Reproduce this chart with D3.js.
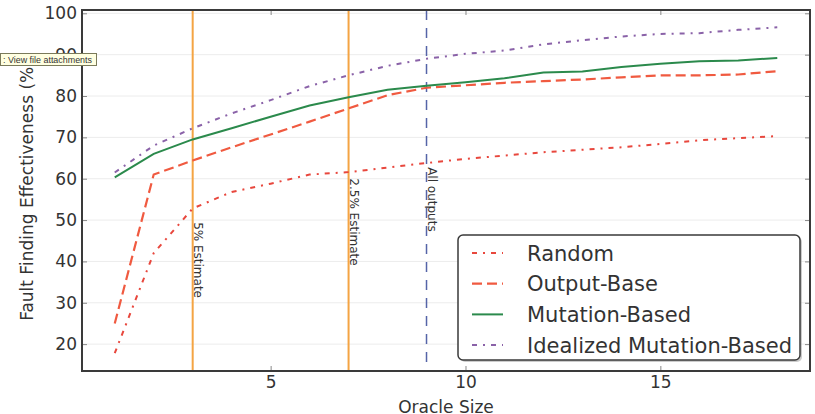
<!DOCTYPE html>
<html lang="en">
<head>
<meta charset="UTF-8">
<title>Fault Finding Effectiveness</title>
<script src="https://cdn.jsdelivr.net/npm/d3@7"></script>
<style>
  body { margin: 0; background: #fff; }
  svg { font-family: "DejaVu Sans", sans-serif; display: block; }
</style>
</head>
<body>
<script>
// data
const oracleSize = [1, 2, 3, 4, 5, 6, 7, 8, 9, 10, 11, 12, 13, 14, 15, 16, 17, 18]
const randomVals = [17.8, 42, 52.8, 56.8, 58.8, 61, 61.6, 62.7, 63.8, 64.8, 65.6, 66.4, 67, 67.6, 68.4, 69.3, 69.8, 70.3]
const outputBase = [25, 61, 64.4, 67.6, 70.7, 73.8, 77, 80.2, 82, 82.6, 83.2, 83.6, 84, 84.5, 85, 85, 85.2, 86]
const mutationBased = [60.3, 66, 69.5, 72.2, 75, 77.7, 79.7, 81.5, 82.5, 83.3, 84.3, 85.7, 85.9, 87, 87.8, 88.4, 88.6, 89.2]
const idealized = [61.5, 68, 72.2, 75.8, 79, 82.4, 85, 87.3, 89, 90.2, 91, 92.5, 93.5, 94.4, 95, 95.2, 96, 96.6]
const seriesNames = ["Random", "Output-Base", "Mutation-Based", "Idealized Mutation-Based"]
const markers = [
  {x: 3, label: "5% Estimate", labelY: 49.5, kind: "estimate"},
  {x: 7, label: "2.5% Estimate", labelY: 60.1, kind: "estimate"},
  {x: 9, label: "All outputs", labelY: 62.8, kind: "all"}
]
const yTicks = [20, 30, 40, 50, 60, 70, 80, 90, 100]
const xTicks = [5, 10, 15]

const width = 815, height = 414
const margin = {top: 10, right: 5, bottom: 43, left: 82}
const svg = d3.select("body").append("svg").attr("width", width).attr("height", height)

const x = d3.scaleLinear().domain([0.16, 18.84]).range([margin.left, width - margin.right])
const y = d3.scaleLinear().domain([13.5, 100.8]).range([height - margin.bottom, margin.top])

const styles = [
  {name: seriesNames[0], values: randomVals, colour: "#e8473d", dash: "5,6,2,6", w: 2},
  {name: seriesNames[1], values: outputBase, colour: "#f05a40", dash: "10,5", w: 2.2},
  {name: seriesNames[2], values: mutationBased, colour: "#2b8a4c", dash: null, w: 2},
  {name: seriesNames[3], values: idealized, colour: "#8a62a8", dash: "5,6,2,6", w: 2}
]

// grid
svg.append("g")
  .selectAll("line").data(yTicks).enter().append("line")
  .attr("x1", x.range()[0]).attr("x2", x.range()[1])
  .attr("y1", d => y(d)).attr("y2", d => y(d))
  .attr("stroke", "#ececec").attr("stroke-width", 1)

// axes (ticks pointing in)
const axisL = svg.append("g").attr("transform", `translate(${margin.left},0)`)
  .call(d3.axisLeft(y).tickValues(yTicks).tickSize(-5).tickPadding(5))
const axisB = svg.append("g").attr("transform", `translate(0,${height - margin.bottom})`)
  .call(d3.axisBottom(x).tickValues(xTicks).tickSize(-5).tickPadding(5))
const axisR = svg.append("g").attr("transform", `translate(${width - margin.right},0)`)
  .call(d3.axisRight(y).tickValues(yTicks).tickSize(-5).tickFormat(""))
const axisT = svg.append("g").attr("transform", `translate(0,${margin.top})`)
  .call(d3.axisTop(x).tickValues(xTicks).tickSize(-5).tickFormat(""))
for (const a of [axisL, axisB, axisR, axisT]) {
  a.select(".domain").remove()
  a.selectAll(".tick line").attr("stroke", "#888")
  a.selectAll("text").attr("font-size", 17).attr("fill", "#333").attr("font-family", "DejaVu Sans")
}

// marker lines
const mk = svg.append("g")
mk.selectAll("line").data(markers).enter().append("line")
  .attr("x1", d => x(d.x)).attr("x2", d => x(d.x))
  .attr("y1", y.range()[1]).attr("y2", y.range()[0])
  .attr("stroke", d => d.kind == "all" ? "#5564a8" : "#f4a443")
  .attr("stroke-width", d => d.kind == "all" ? 1.5 : 2)
  .attr("stroke-dasharray", d => d.kind == "all" ? "10,8" : null)
mk.selectAll("text").data(markers).enter().append("text")
  .attr("transform", d => `translate(${x(d.x) + 1.5},${y(d.labelY)}) rotate(90)`)
  .attr("font-size", 12).attr("fill", "#333")
  .text(d => d.label)

// series
const line = d3.line().x((d, i) => x(oracleSize[i])).y(d => y(d))
svg.append("g").selectAll("path").data(styles).enter().append("path")
  .attr("d", d => line(d.values))
  .attr("fill", "none")
  .attr("stroke", d => d.colour)
  .attr("stroke-width", d => d.w)
  .attr("stroke-dasharray", d => d.dash)

// frame
svg.append("rect")
  .attr("x", x.range()[0]).attr("y", y.range()[1])
  .attr("width", x.range()[1] - x.range()[0]).attr("height", y.range()[0] - y.range()[1])
  .attr("fill", "none").attr("stroke", "#3a3a3a").attr("stroke-width", 2)

// axis labels (the reference crops the bottom of this one)
svg.append("text")
  .attr("x", (x.range()[0] + x.range()[1]) / 2).attr("y", 413)
  .attr("text-anchor", "middle").attr("font-size", 17).attr("fill", "#333")
  .text("Oracle Size")
svg.append("text")
  .attr("transform", `translate(33,${(y.range()[0] + y.range()[1]) / 2}) rotate(-90)`)
  .attr("text-anchor", "middle").attr("font-size", 17).attr("fill", "#333")
  .text("Fault Finding Effectiveness (%)")

// legend
const legend = svg.append("g").attr("transform", "translate(458,235)")
legend.append("rect").attr("x", 2).attr("y", 2).attr("width", 342).attr("height", 125)
  .attr("rx", 5).attr("fill", "#aaa").attr("opacity", 0.6)
legend.append("rect").attr("width", 342).attr("height", 125)
  .attr("rx", 5).attr("fill", "#fff").attr("stroke", "#3a3a3a").attr("stroke-width", 1.5)
const rows = legend.selectAll(".row").data(styles).enter().append("g")
  .attr("transform", (d, i) => `translate(0,${18 + i * 30.7})`)
rows.append("line").attr("x1", 14).attr("x2", 45)
  .attr("stroke", d => d.colour).attr("stroke-width", d => d.w)
  .attr("stroke-dasharray", d => d.dash)
rows.append("text").attr("x", 69).attr("dy", "0.36em")
  .attr("font-size", 21).attr("fill", "#333")
  .text(d => d.name)

// screenshot tooltip overlay
const tip = svg.append("g").attr("transform", "translate(0,53)")
tip.append("rect").attr("x", 0.5).attr("y", 0.5).attr("width", 96).attr("height", 12)
  .attr("fill", "#ffffe1").attr("stroke", "#7a7a5a").attr("stroke-width", 1)
tip.append("text").attr("x", 3).attr("y", 9.5)
  .attr("font-size", 9).attr("font-family", "Liberation Sans").attr("fill", "#333")
  .attr("textLength", 89).attr("lengthAdjust", "spacingAndGlyphs")
  .text(": View file attachments")
</script>
</body>
</html>
